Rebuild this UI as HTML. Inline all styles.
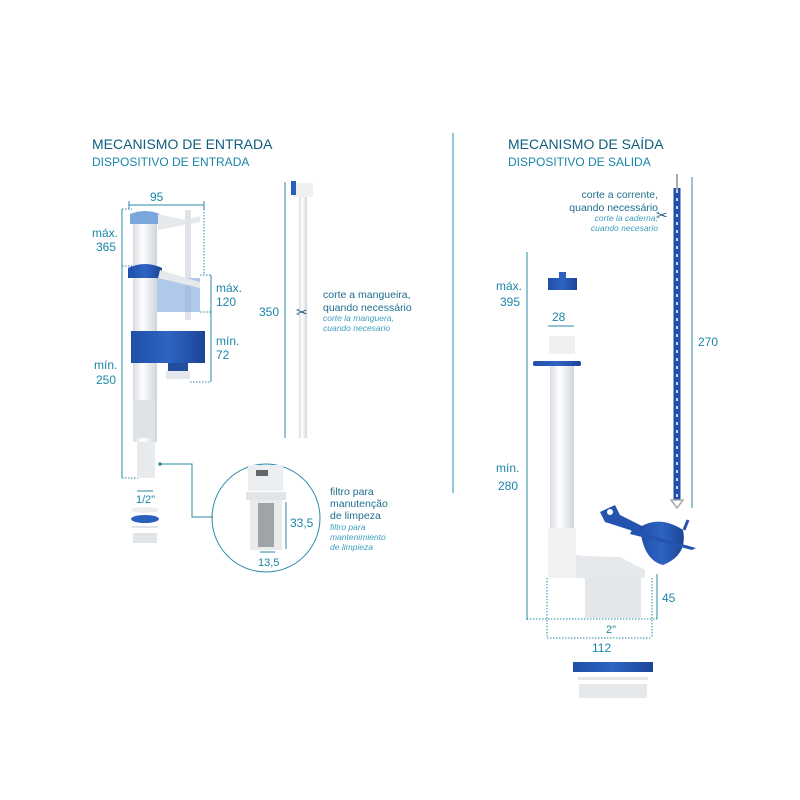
<!DOCTYPE html>
<html><head><meta charset="utf-8"><style>
html,body{margin:0;padding:0;background:#fff}
svg{display:block}
text{font-family:"Liberation Sans",sans-serif}
</style></head><body>
<svg width="800" height="800" viewBox="0 0 800 800" xmlns="http://www.w3.org/2000/svg">
<defs>
<linearGradient id="wg" x1="0" x2="1"><stop offset="0" stop-color="#d8dde2"/><stop offset="0.4" stop-color="#ffffff"/><stop offset="1" stop-color="#d0d5da"/></linearGradient>
<linearGradient id="bg" x1="0" x2="1"><stop offset="0" stop-color="#1f4fa8"/><stop offset="0.5" stop-color="#2f64c4"/><stop offset="1" stop-color="#1b4596"/></linearGradient>
</defs>
<text x="92" y="149" font-size="14" fill="#0f5d7e">MECANISMO DE ENTRADA</text>
<text x="92" y="166" font-size="12" fill="#1a86a8">DISPOSITIVO DE ENTRADA</text>
<text x="508" y="149" font-size="14" fill="#0f5d7e">MECANISMO DE SAÍDA</text>
<text x="508" y="166" font-size="12" fill="#1a86a8">DISPOSITIVO DE SALIDA</text>
<line x1="453" y1="133" x2="453" y2="493" stroke="#4aa3c3" stroke-width="1.2"/>

<g stroke="#2a8aaa" fill="none" stroke-width="1">
<line x1="122" y1="209" x2="122" y2="478"/>
<line x1="129" y1="205" x2="204" y2="205"/><line x1="129" y1="201" x2="129" y2="209"/><line x1="204" y1="201" x2="204" y2="209"/>
<line x1="122" y1="209" x2="132" y2="209" stroke-dasharray="1.5 1.5"/>
<line x1="122" y1="266" x2="132" y2="266" stroke-dasharray="1.5 1.5"/>
<line x1="122" y1="478" x2="140" y2="478" stroke-dasharray="1.5 1.5"/>
<line x1="204" y1="209" x2="204" y2="275" stroke-dasharray="1.5 1.5"/>
<line x1="211" y1="275" x2="211" y2="382"/>
<line x1="200" y1="275" x2="211" y2="275" stroke-dasharray="1.5 1.5"/>
<line x1="200" y1="312" x2="211" y2="312" stroke-dasharray="1.5 1.5"/>
<line x1="190" y1="382" x2="211" y2="382" stroke-dasharray="1.5 1.5"/>
<line x1="137" y1="491" x2="153" y2="491"/>
<line x1="285" y1="182" x2="285" y2="438"/>
<polyline points="160,464 192,464 192,517 213,517"/>
<circle cx="266" cy="518" r="54"/>
<line x1="286" y1="502" x2="286" y2="549"/>
<line x1="260" y1="552" x2="275" y2="552"/>
<line x1="527" y1="252" x2="527" y2="620"/>
<line x1="548" y1="326" x2="574" y2="326"/>
<line x1="692" y1="177" x2="692" y2="508"/>
<line x1="657" y1="574" x2="657" y2="619"/>
<line x1="547" y1="578" x2="547" y2="638" stroke-dasharray="1.5 1.5"/>
<line x1="652" y1="578" x2="652" y2="638" stroke-dasharray="1.5 1.5"/>
<line x1="527" y1="619" x2="657" y2="619" stroke-dasharray="1.5 1.5"/>
<line x1="547" y1="638" x2="652" y2="638" stroke-dasharray="1.5 1.5"/>
</g>
<circle cx="160" cy="464" r="1.8" fill="#2a8aaa"/>

<g font-size="12" fill="#1a86a8">
<text x="92" y="237">máx.</text><text x="96" y="251">365</text>
<text x="150" y="201">95</text>
<text x="216" y="292">máx.</text><text x="216" y="306">120</text>
<text x="216" y="345">mín.</text><text x="216" y="359">72</text>
<text x="94" y="369">mín.</text><text x="96" y="384">250</text>
<text x="136" y="503" font-size="11">1/2"</text>
<text x="259" y="316">350</text>
<text x="290" y="527">33,5</text>
<text x="258" y="566" font-size="11">13,5</text>
<text x="496" y="290">máx.</text><text x="500" y="306">395</text>
<text x="552" y="321">28</text>
<text x="496" y="472">mín.</text><text x="498" y="490">280</text>
<text x="698" y="346">270</text>
<text x="662" y="602">45</text>
<text x="606" y="633" font-size="11">2"</text>
<text x="592" y="652">112</text>
</g>
<g font-size="10.5" fill="#1f6e8e">
<text x="323" y="298">corte a mangueira,</text>
<text x="323" y="311">quando necessário</text>
<text x="330" y="495">filtro para</text>
<text x="330" y="507">manutenção</text>
<text x="330" y="519">de limpeza</text>
<text x="658" y="198" text-anchor="end">corte a corrente,</text>
<text x="658" y="211" text-anchor="end">quando necessário</text>
</g>
<g font-size="8.5" fill="#3fa0c0" font-style="italic">
<text x="323" y="321">corte la manguera,</text>
<text x="323" y="331">cuando necesario</text>
<text x="330" y="530">filtro para</text>
<text x="330" y="540">mantenimiento</text>
<text x="330" y="550">de limpieza</text>
<text x="658" y="221" text-anchor="end">corte la caderna,</text>
<text x="658" y="231" text-anchor="end">cuando necesario</text>
</g>

<!-- inlet valve -->
<rect x="133" y="222" width="24" height="220" fill="url(#wg)"/>
<path d="M130 214 Q145 208 160 214 L160 224 L130 224 Z" fill="#7aa6dc"/>
<path d="M128 268 Q145 260 162 268 L162 278 L128 278 Z" fill="url(#bg)"/>
<path d="M158 214 L185 220 L200 216 L200 222 L158 230 Z" fill="#e6e9ec"/>
<rect x="185" y="210" width="6" height="110" fill="#e0e4e8"/>
<rect x="157" y="278" width="43" height="34" fill="#8fb0e0" opacity="0.7"/>
<path d="M158 278 L200 288 L200 282 L160 270 Z" fill="#e6e9ec"/>
<rect x="131" y="331" width="74" height="32" fill="url(#bg)"/>
<rect x="168" y="363" width="20" height="8" fill="#224e9e"/>
<rect x="166" y="371" width="24" height="8" fill="#e4e8ec"/>
<rect x="135" y="400" width="20" height="38" fill="#dfe3e7"/>
<rect x="137" y="442" width="18" height="36" fill="#e8ebee"/>
<ellipse cx="145" cy="510" rx="14" ry="3" fill="#eceff2"/>
<ellipse cx="145" cy="519" rx="14" ry="4" fill="#2b5fbd"/>
<rect x="132" y="526" width="26" height="2" fill="#e2e5e8"/>
<rect x="133" y="533" width="24" height="10" fill="#e2e5e8"/>

<!-- hose -->
<rect x="299" y="196" width="8" height="242" fill="url(#wg)"/>
<rect x="293" y="183" width="20" height="14" fill="#eef0f2"/>
<rect x="291" y="181" width="5" height="14" fill="#2b5fbd"/>
<text x="296" y="317" font-size="14" fill="#1f5f7e">✂</text>

<!-- filter detail -->
<rect x="248" y="465" width="35" height="26" fill="#eceff1"/>
<rect x="256" y="470" width="12" height="6" fill="#666"/>
<rect x="246" y="492" width="40" height="8" fill="#e2e5e8"/>
<rect x="250" y="500" width="32" height="50" fill="#e8eaec"/>
<rect x="258" y="503" width="16" height="44" fill="#9fa4a9"/>

<!-- overflow tube -->
<path d="M548 278 L548 290 L577 290 L577 278 L566 278 L566 272 L559 272 L559 278 Z" fill="url(#bg)"/>
<rect x="549" y="336" width="26" height="18" fill="#eef0f2"/>
<rect x="533" y="361" width="48" height="5" rx="2" fill="url(#bg)"/>
<rect x="550" y="366" width="24" height="162" fill="url(#wg)"/>
<rect x="548" y="528" width="28" height="50" fill="#f0f2f4"/>
<path d="M576 555 L585 556 L620 557 L645 570 L645 578 L576 578 Z" fill="#e6e9ec"/>
<rect x="585" y="578" width="56" height="40" fill="#e4e7ea"/>
<rect x="573" y="662" width="80" height="10" fill="url(#bg)"/>
<rect x="578" y="677" width="70" height="3" fill="#e3e6e9"/>
<rect x="579" y="684" width="68" height="14" fill="#e6e9ec"/>

<!-- chain -->
<line x1="677" y1="188" x2="677" y2="500" stroke="#1f4fa8" stroke-width="7"/>
<line x1="677" y1="190" x2="677" y2="498" stroke="#ffffff" stroke-width="1.5" stroke-dasharray="3 5"/>
<path d="M677 174 L677 190" stroke="#aaa" stroke-width="2"/>
<path d="M671 500 L683 500 L677 508 Z" fill="none" stroke="#aaa" stroke-width="1.5"/>
<text x="656" y="220" font-size="14" fill="#1f5f7e">✂</text>

<!-- flapper -->
<path d="M600 512 L615 505 L620 515 L680 545 L665 548 L630 530 L605 522 Z" fill="#2454b0"/>
<circle cx="610" cy="512" r="3" fill="#fff"/>
<path d="M640 527 Q660 515 683 530 Q688 555 663 565 Q643 560 640 527 Z" fill="url(#bg)"/>
<path d="M632 530 L696 548 L692 550 L630 534 Z" fill="#2454b0"/>
<path d="M684 530 L688 520" stroke="#2454b0" stroke-width="3"/>
</svg>
</body></html>
